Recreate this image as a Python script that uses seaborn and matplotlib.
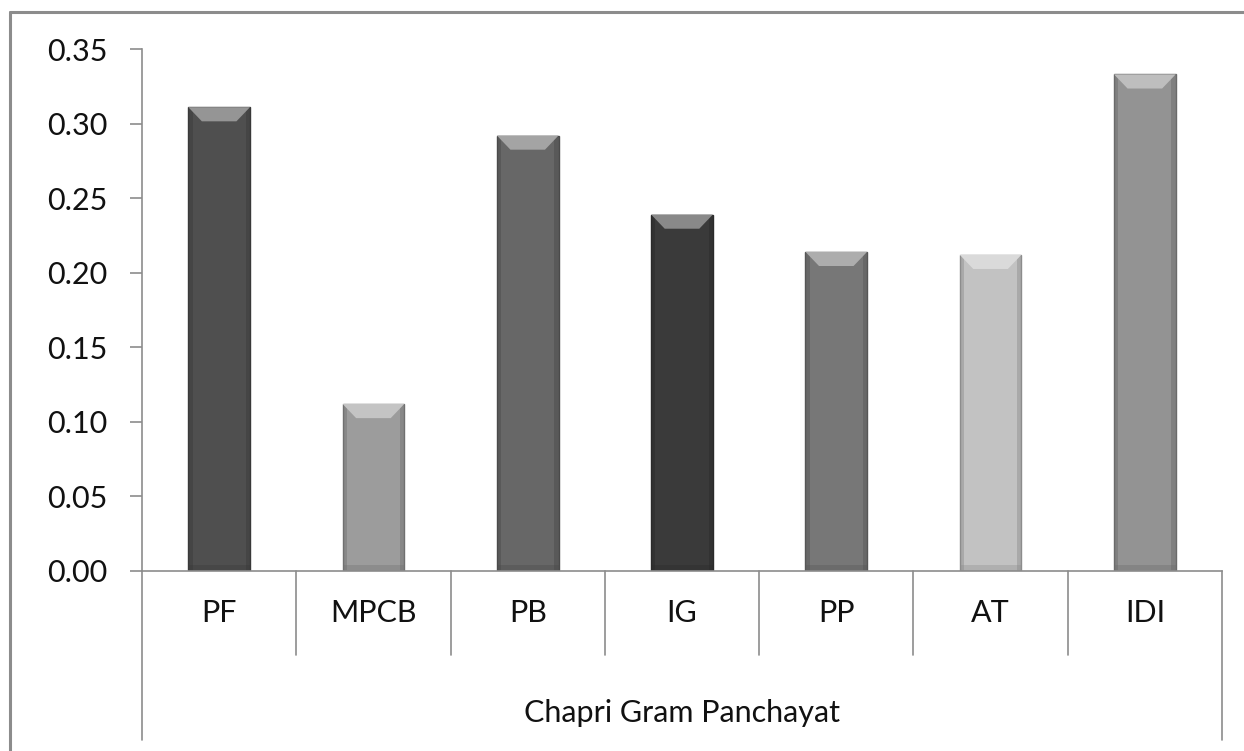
import matplotlib.pyplot as plt
import matplotlib.colors as mcolors
import seaborn as sns
import pandas as pd
from matplotlib.patches import Polygon, Rectangle
from matplotlib.lines import Line2D

# 数据
categories = ['PF', 'MPCB', 'PB', 'IG', 'PP', 'AT', 'IDI']
values = [0.311, 0.112, 0.292, 0.239, 0.214, 0.212, 0.333]
bar_colors = ['#4f4f4f', '#9c9c9c', '#676767', '#3a3a3a', '#777777', '#c2c2c2', '#939393']
group_label = 'Chapri Gram Panchayat'
y_ticks = [0.00, 0.05, 0.10, 0.15, 0.20, 0.25, 0.30, 0.35]

df = pd.DataFrame({'cat': categories, 'val': values})

sns.set_style('white')
plt.rcParams['font.family'] = ['Lato', 'DejaVu Sans']
FS = 22

fig = plt.figure(figsize=(12.44, 7.51), dpi=100)
ax = fig.add_axes([142 / 1244, 1 - 571 / 751, (1222 - 142) / 1244, (571 - 49) / 751])

sns.barplot(data=df, x='cat', y='val', hue='cat', palette=bar_colors,
            width=0.4, legend=False, ax=ax, saturation=1, linewidth=0)

ax.set_ylim(0, 0.35)
ax.set_xlim(-0.5, len(categories) - 0.5)
ax.set_yticks(y_ticks)
ax.set_yticklabels([f'{t:.2f}' for t in y_ticks], fontsize=FS, color='#111111')
ax.set_xticks([])
ax.set_xlabel('')
ax.set_ylabel('')

# 轴线样式
for side in ['top', 'right']:
    ax.spines[side].set_visible(False)
for side in ['left', 'bottom']:
    ax.spines[side].set_color('#8c8c8c')
    ax.spines[side].set_linewidth(1.2)
ax.tick_params(axis='y', length=9, width=1.2, color='#8c8c8c', pad=16, left=True)

# 立体效果
for patch, c in zip(ax.patches, bar_colors):
    x, w, h = patch.get_x(), patch.get_width(), patch.get_height()
    base = mcolors.to_rgb(c)
    dark = tuple(v * 0.72 for v in base)
    light = tuple(min(1, v + (1 - v) * 0.4) for v in base)
    patch.set_edgecolor(dark)
    patch.set_linewidth(1.0)
    sw = w * 0.07
    ax.add_patch(Rectangle((x, 0), sw, h, color=dark, alpha=0.45, lw=0))
    ax.add_patch(Rectangle((x + w - sw, 0), sw, h, color=dark, alpha=0.45, lw=0))
    d = 0.0095
    b = w * 0.22
    ax.add_patch(Polygon([(x, h), (x + w, h), (x + w - b, h - d), (x + b, h - d)],
                         closed=True, color=light, lw=0))
    ax.add_patch(Rectangle((x, 0), w, 0.004, color=dark, alpha=0.35, lw=0))

# 分类轴（两级）
line_kw = dict(color='#8c8c8c', lw=1.2, transform=ax.get_xaxis_transform(), clip_on=False)
n = len(categories)
for i in range(n + 1):
    xb = -0.5 + i
    bottom = -0.324 if i in (0, n) else -0.161
    ax.add_line(Line2D([xb, xb], [0, bottom], **line_kw))
for i, cat in enumerate(categories):
    ax.text(i, -0.08, cat, transform=ax.get_xaxis_transform(), ha='center', va='center',
            fontsize=FS, color='#111111')
ax.text((n - 1) / 2, -0.272, group_label, transform=ax.get_xaxis_transform(),
        ha='center', va='center', fontsize=FS, color='#111111')

# 外框
fig.add_artist(Line2D([10 / 1244, 10 / 1244], [0, 1 - 12 / 751], color='#8c8c8c', lw=2.2,
                      transform=fig.transFigure))
fig.add_artist(Line2D([10 / 1244, 1], [1 - 12 / 751, 1 - 12 / 751], color='#8c8c8c', lw=2.2,
                      transform=fig.transFigure))

fig.savefig('out.png', dpi=100)
